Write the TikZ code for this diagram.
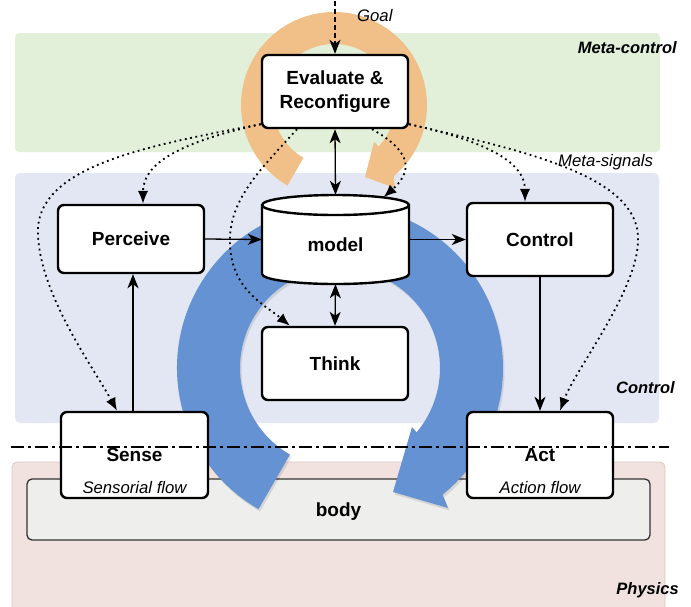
\documentclass[tikz,border=0pt]{standalone}
\usepackage{fontspec}
\setmainfont{Liberation Sans}
\usetikzlibrary{arrows.meta,calc}
\definecolor{bandgreen}{RGB}{226,240,218}
\definecolor{bandblue}{RGB}{226,231,243}
\definecolor{bandpink}{RGB}{241,226,223}
\definecolor{pinkedge}{RGB}{222,200,196}
\definecolor{bodyfill}{RGB}{238,238,236}
\definecolor{ringorange}{RGB}{241,192,137}
\definecolor{ringblue}{RGB}{101,146,210}
\newcommand\myboxfont{\bfseries\fontsize{19}{23.5}\selectfont}
\newcommand\mylabfont{\itshape\fontsize{16.7}{20}\selectfont}
\newcommand\mylayerfont{\bfseries\itshape\fontsize{16.5}{20}\selectfont}
\begin{document}
\begin{tikzpicture}[x=1pt,y=1pt,
  box/.style={draw, line width=2.4pt, rounded corners=6pt, fill=white, inner sep=0pt, font=\myboxfont, minimum width=146pt},
  onel/.style={text height=13.7pt, text depth=0pt},
  flowarrow/.style={line width=1.3pt, -{Stealth[length=14pt,width=11pt,inset=4pt]}},
  dblarrow/.style={line width=1.3pt, {Stealth[length=14pt,width=11pt,inset=4pt]}-{Stealth[length=14pt,width=11pt,inset=4pt]}},
  metaarrow/.style={line width=1.8pt, dash pattern=on 1.8pt off 3.6pt, -{Latex[length=13pt,width=10.5pt]}},
  lab/.style={font=\mylabfont, inner sep=0pt},
  layerlab/.style={font=\mylayerfont, inner sep=0pt, anchor=east}
]
\useasboundingbox (0,0) rectangle (691,-606);
\fill[white] (0,0) rectangle (691,-606);
% bands
\fill[bandgreen, rounded corners=4pt] (15,-33) rectangle (660,-152);
\fill[bandblue, rounded corners=5pt] (15,-173) rectangle (659,-423);
\filldraw[fill=bandpink, draw=pinkedge, line width=0.8pt, rounded corners=5pt] (12,-615) -- (12,-462) -- (665,-462) -- (665,-615);
% body
\node[draw=black!80, line width=1.3pt, fill=bodyfill, rounded corners=5pt, minimum width=623pt, minimum height=61pt, inner sep=0pt, font=\myboxfont, text height=13.7pt, text depth=0pt] (body) at (338.5,-509.5) {body};
% blue ring shadow + ring
\begin{scope}[shift={(1.5,-2.5)}]
\fill[black, opacity=0.10] ($(340,-368)+(240:163)$) arc[start angle=240,end angle=-51,radius=163] -- (448,-508) -- (393,-492) -- (412,-427) -- ($(340,-368)+(-40:100)$) arc[start angle=-40,end angle=240,radius=100] -- cycle;
\end{scope}
\fill[ringblue] ($(340,-368)+(240:163)$) arc[start angle=240,end angle=-51,radius=163] -- (448,-508) -- (393,-492) -- (412,-427) -- ($(340,-368)+(-40:100)$) arc[start angle=-40,end angle=240,radius=100] -- cycle;
% orange ring
\fill[ringorange] ($(334,-105)+(240:93)$) arc[start angle=240,end angle=-50,radius=93] -- (395,-188) -- (365,-177) -- (374,-142) -- ($(334,-105)+(-43:61)$) arc[start angle=-43,end angle=240,radius=61] -- cycle;
% layer labels
\node[layerlab] (lmeta) at (677,-48) {Meta-control};
\node[layerlab] (lcontrol) at (675,-388) {Control};
\node[layerlab] (lphys) at (679,-590) {Physics};
\node[lab, anchor=west] (lsignals) at (558,-162) {Meta-signals};
\node[lab, anchor=west] (lgoal) at (357,-16) {Goal};
% boxes
\node[box, align=center, minimum height=73pt] (eval) at (335,-91.5) {Evaluate \&\\Reconfigure};
\node[box, onel, minimum height=68pt] (perceive) at (131,-239) {Perceive};
\node[box, onel, minimum height=73pt] (control) at (540,-239.5) {Control};
\node[box, onel, minimum height=73pt] (think) at (335,-363.5) {Think};
\node[box, onel, minimum width=147pt, minimum height=86pt] (sense) at (134.5,-455) {Sense};
\node[box, onel, minimum height=86pt] (act) at (540,-455) {Act};
\node[lab] (sensef) at (134.5,-488) {Sensorial flow};
\node[lab] (actf) at (540,-488) {Action flow};
% model cylinder
\filldraw[fill=white, line width=2.4pt] (262,-205) -- (262,-274) arc[start angle=180,end angle=360,x radius=73.5,y radius=10] -- (409,-205) arc[start angle=0,end angle=180,x radius=73.5,y radius=10] -- cycle;
\draw[line width=2.4pt] (262,-205) arc[start angle=180,end angle=360,x radius=73.5,y radius=10];
\node[minimum width=147pt, minimum height=89pt, inner sep=0pt] (model) at (335.5,-239.5) {};
\node[font=\myboxfont, inner sep=0pt, text height=13.7pt, text depth=0pt] (modeltxt) at (335.5,-245) {model};
% solid connectors
\coordinate (goalsrc) at (335,-1);
\draw[line width=1.3pt, dash pattern=on 5pt off 3pt, -{Stealth[length=14pt,width=11pt,inset=4pt]}] (goalsrc) -- (eval.north);
\draw[dblarrow] (eval.south) -- (model.north);
\draw[dblarrow] (model.south) -- (think.north);
\draw[flowarrow] (perceive.east) -- (model.west);
\draw[flowarrow] (model.east) -- (control.west);
\draw[flowarrow] ([xshift=-1.5pt]sense.north) -- ([xshift=2pt]perceive.south);
\draw[flowarrow] (control.south) -- (act.north);
% meta-signals (dotted)
\draw[metaarrow] ([yshift=5pt]eval.south west) .. controls (150,-145) and (42,-165) .. (38,-228) .. controls (36,-290) and (95,-370) .. ([xshift=-17.5pt]sense.north);
\draw[metaarrow] ([yshift=5pt]eval.south west) .. controls (190,-140) and (143,-160) .. ([xshift=12pt]perceive.north);
\draw[metaarrow] ([xshift=-38pt]eval.south) .. controls (260,-170) and (228,-200) .. (230,-245) .. controls (232,-290) and (265,-305) .. ([xshift=-45pt]think.north);
\draw[metaarrow] ([xshift=37pt]eval.south) .. controls (400,-145) and (420,-165) .. ([xshift=48pt,yshift=-2.5pt]model.north);
\draw[metaarrow] ([yshift=5pt]eval.south east) .. controls (480,-140) and (525,-160) .. ([xshift=-15pt]control.north);
\draw[metaarrow] ([yshift=5pt]eval.south east) .. controls (520,-150) and (640,-175) .. (638,-240) .. controls (638,-290) and (575,-370) .. ([xshift=20pt]act.north);
% boundary line
\coordinate (dd1) at (11,-447);
\coordinate (dd2) at (669,-447);
\draw[line width=1.2pt, dash pattern=on 13pt off 4pt on 3pt off 4pt] (dd1) -- (dd2);
\end{tikzpicture}
\end{document}
